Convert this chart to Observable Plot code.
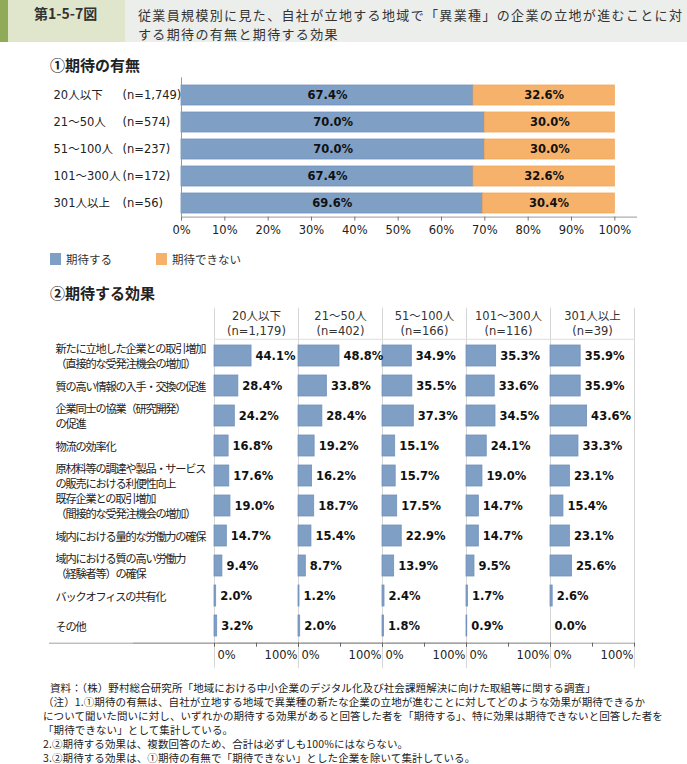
<!DOCTYPE html>
<html><head><meta charset="utf-8">
<script src="https://cdn.jsdelivr.net/npm/d3@7"></script>
<script src="https://cdn.jsdelivr.net/npm/@observablehq/plot@0.6"></script>
<style>
body{margin:0;background:#fff;}
#page{position:relative;width:687px;height:764px;overflow:hidden;font-family:"Noto Sans CJK JP",sans-serif;color:#222;}
.abs{position:absolute;white-space:nowrap;}
.c2 g[aria-label="y-axis tick label"] text{letter-spacing:-1.2px;}
.foot{font-size:10.5px;letter-spacing:0.1px;line-height:14px;}
.foot div{height:14px;}
.tl{position:absolute;left:138px;font-size:13px;line-height:19px;letter-spacing:1.35px;color:#333;white-space:nowrap;}
</style>
</head><body>
<div id="page">
  <div class="abs" style="left:0;top:0;width:687px;height:42px;background:#eceeeb"></div>
  <div class="abs" style="left:0;top:0;width:8px;height:42px;background:#8fab57"></div>
  <div class="abs" style="left:8px;top:0;width:117px;height:42px;background:#dfe6cc"></div>
  <div class="abs" id="fignum" style="left:34px;top:4px;font-size:14px;line-height:18px;font-weight:bold;color:#333"></div>
  <div id="figtitle"></div>
  <div class="abs" id="sec1" style="left:50px;top:56px;font-size:15px;line-height:18px;font-weight:bold;color:#222"></div>
  <div class="abs" id="chart1" style="left:0;top:75px;"></div>
  <div class="abs" id="legend" style="left:0;top:250px;width:687px;height:20px;"></div>
  <div class="abs" id="sec2" style="left:50px;top:284px;font-size:15px;line-height:18px;font-weight:bold;color:#222"></div>
  <div class="abs" id="chart2" style="left:0;top:300px;"></div>
  <div class="abs foot" id="notes" style="left:0;top:681px;width:687px;"></div>
</div>
<script>
// ---- text ----
const figNumber = "第1-5-7図";
const figTitleLines = ["従業員規模別に見た、自社が立地する地域で「異業種」の企業の立地が進むことに対", "する期待の有無と期待する効果"];
const section1 = "①期待の有無";
const section2 = "②期待する効果";
const noteLines = [
  "資料：（株）野村総合研究所「地域における中小企業のデジタル化及び社会課題解決に向けた取組等に関する調査」",
  "（注）1.①期待の有無は、自社が立地する地域で異業種の新たな企業の立地が進むことに対してどのような効果が期待できるか",
  "について聞いた問いに対し、いずれかの期待する効果があると回答した者を「期待する」、特に効果は期待できないと回答した者を",
  "「期待できない」として集計している。",
  "2.②期待する効果は、複数回答のため、合計は必ずしも100%にはならない。",
  "3.②期待する効果は、①期待の有無で「期待できない」とした企業を除いて集計している。"
];

// ---- chart 1 data ----
const sizes1 = ["20人以下", "21～50人", "51～100人", "101～300人", "301人以上"];
const n1 = ["(n=1,749)", "(n=574)", "(n=237)", "(n=172)", "(n=56)"];
const responses = ["期待する", "期待できない"];
const expectYes = [67.4, 70.0, 70.0, 67.4, 69.6];
const expectNo = [32.6, 30.0, 30.0, 32.6, 30.4];
const ticks1 = [0, 10, 20, 30, 40, 50, 60, 70, 80, 90, 100];

// ---- chart 2 data ----
const groups2 = ["20人以下", "21～50人", "51～100人", "101～300人", "301人以上"];
const n2 = ["(n=1,179)", "(n=402)", "(n=166)", "(n=116)", "(n=39)"];
const effects = [
  "新たに立地した企業との取引増加\n（直接的な受発注機会の増加）",
  "質の高い情報の入手・交換の促進",
  "企業同士の協業（研究開発）\nの促進",
  "物流の効率化",
  "原材料等の調達や製品・サービス\nの販売における利便性向上",
  "既存企業との取引増加\n（間接的な受発注機会の増加）",
  "域内における量的な労働力の確保",
  "域内における質の高い労働力\n（経験者等）の確保",
  "バックオフィスの共有化",
  "その他"
];
const eff20 = [44.1, 28.4, 24.2, 16.8, 17.6, 19.0, 14.7, 9.4, 2.0, 3.2];
const eff21 = [48.8, 33.8, 28.4, 19.2, 16.2, 18.7, 15.4, 8.7, 1.2, 2.0];
const eff51 = [34.9, 35.5, 37.3, 15.1, 15.7, 17.5, 22.9, 13.9, 2.4, 1.8];
const eff101 = [35.3, 33.6, 34.5, 24.1, 19.0, 14.7, 14.7, 9.5, 1.7, 0.9];
const eff301 = [35.9, 35.9, 43.6, 33.3, 23.1, 15.4, 23.1, 25.6, 2.6, 0.0];

const BLUE = "#7f9fc5", ORANGE = "#f6b26b";
const NUMFONT = "'DejaVu Sans','Noto Sans CJK JP',sans-serif";

// header texts
document.getElementById("fignum").textContent = figNumber;
document.getElementById("figtitle").innerHTML = figTitleLines.map((t, i) =>
  `<div class="tl" style="top:${4.5 + i * 19}px">${t}</div>`).join("");
document.getElementById("sec1").textContent = section1;
document.getElementById("sec2").textContent = section2;
document.getElementById("notes").innerHTML = noteLines.map((t, i) =>
  `<div style="padding-left:${i === 0 ? 50 : 43}px">${t}</div>`).join("");

// legend
const legendPos = [50, 156];
document.getElementById("legend").innerHTML = responses.map((r, i) =>
  `<div class="abs" style="left:${legendPos[i]}px;top:3px;width:11px;height:12px;background:${[BLUE, ORANGE][i]}"></div>` +
  `<div class="abs" style="left:${legendPos[i] + 16}px;top:0;font-size:11.5px;line-height:18px;color:#333">${r}</div>`
).join("");

// ---- chart 1 ----
const data1 = [];
sizes1.forEach((s, i) => {
  data1.push({size: s, resp: responses[0], value: expectYes[i]});
  data1.push({size: s, resp: responses[1], value: expectNo[i]});
});

const chart1 = Plot.plot({
  width: 687, height: 170,
  marginTop: 5.4, marginBottom: 28.4, marginLeft: 181, marginRight: 51,
  style: {fontFamily: NUMFONT, fontSize: "11.5px", color: "#222", background: "transparent"},
  x: {domain: [0, 105]},
  y: {domain: sizes1, paddingInner: 0.27, paddingOuter: 0.135},
  color: {domain: responses, range: [BLUE, ORANGE]},
  marks: [
    Plot.barX(data1, Plot.stackX({x: "value", y: "size", fill: "resp", stroke: d => d.resp === responses[0] ? "#7192bd" : "#f3a75a", strokeWidth: 0.8})),
    Plot.text(data1, Plot.stackX({x: "value", y: "size", text: d => d.value.toFixed(1) + "%", fontWeight: "bold", fontSize: 11.5, fill: "#111"})),
    Plot.ruleX([0], {stroke: "#999", insetTop: -3}),
    Plot.frame({anchor: "bottom", stroke: "#999"}),
    Plot.axisX({ticks: ticks1, tickFormat: d => d + "%", tickSize: 4, tickPadding: 5, stroke: "#777", label: null, fill: "#222"}),
    Plot.axisY({tickSize: 0, tickPadding: 0, textAnchor: "start", dx: -128, label: null, fill: "#222", fontFamily: NUMFONT}),
    Plot.axisY({tickSize: 0, tickPadding: 0, textAnchor: "start", dx: -59, label: null, fill: "#222", tickFormat: d => n1[sizes1.indexOf(d)]})
  ]
});
document.getElementById("chart1").appendChild(chart1);

// ---- chart 2 ----
const effValues = [eff20, eff21, eff51, eff101, eff301];
const data2 = [];
groups2.forEach((g, gi) => effects.forEach((e, ei) => data2.push({group: g, effect: e, value: effValues[gi][ei]})));

const chart2 = Plot.plot({
  width: 687, height: 370,
  marginTop: 38.8, marginBottom: 27.3, marginLeft: 212, marginRight: 52,
  className: "c2",
  style: {fontFamily: NUMFONT, fontSize: "11.5px", color: "#222", background: "transparent"},
  fx: {domain: groups2, padding: 0},
  x: {domain: [0, 100]},
  y: {domain: effects, paddingInner: 0.31, paddingOuter: 0.155},
  marks: [
    Plot.ruleX([0, 100], {stroke: "#d6d6d6", insetTop: -31, insetBottom: -25}),
    Plot.frame({anchor: "top", stroke: "#dedede"}),
    Plot.frame({anchor: "bottom", stroke: "#a0a0a0", insetLeft: -165}),
    Plot.barX(data2, {x: "value", y: "effect", fx: "group", fill: BLUE, stroke: "#7192bd", strokeWidth: 0.8}),
    Plot.text(data2, {x: "value", y: "effect", fx: "group", text: d => d.value.toFixed(1) + "%", textAnchor: "start", dx: 4, fontWeight: "bold", fontSize: 11.5, fill: "#111"}),
    Plot.axisX({ticks: [0, 50, 100], tickFormat: () => "", tickSize: 4, stroke: "#666", label: null}),
    Plot.axisX({ticks: [0], tickFormat: d => d + "%", tickSize: 0, tickPadding: 8, textAnchor: "start", dx: 3, label: null, fill: "#222"}),
    Plot.axisX({ticks: [100], tickFormat: d => d + "%", tickSize: 0, tickPadding: 8, textAnchor: "end", dx: -1, label: null, fill: "#222"}),
    Plot.axisY({tickSize: 0, tickPadding: 0, textAnchor: "start", dx: -159, label: null, fill: "#222", lineHeight: 1.3, fontFamily: "'Noto Sans CJK JP',sans-serif", fontSize: 11.2}),
    Plot.axisFx({anchor: "top", tickSize: 0, tickPadding: 4, label: null, fill: "#333", lineHeight: 1.3, tickFormat: d => d + "\n" + n2[groups2.indexOf(d)]})
  ]
});
document.getElementById("chart2").appendChild(chart2);
</script>
</body></html>
